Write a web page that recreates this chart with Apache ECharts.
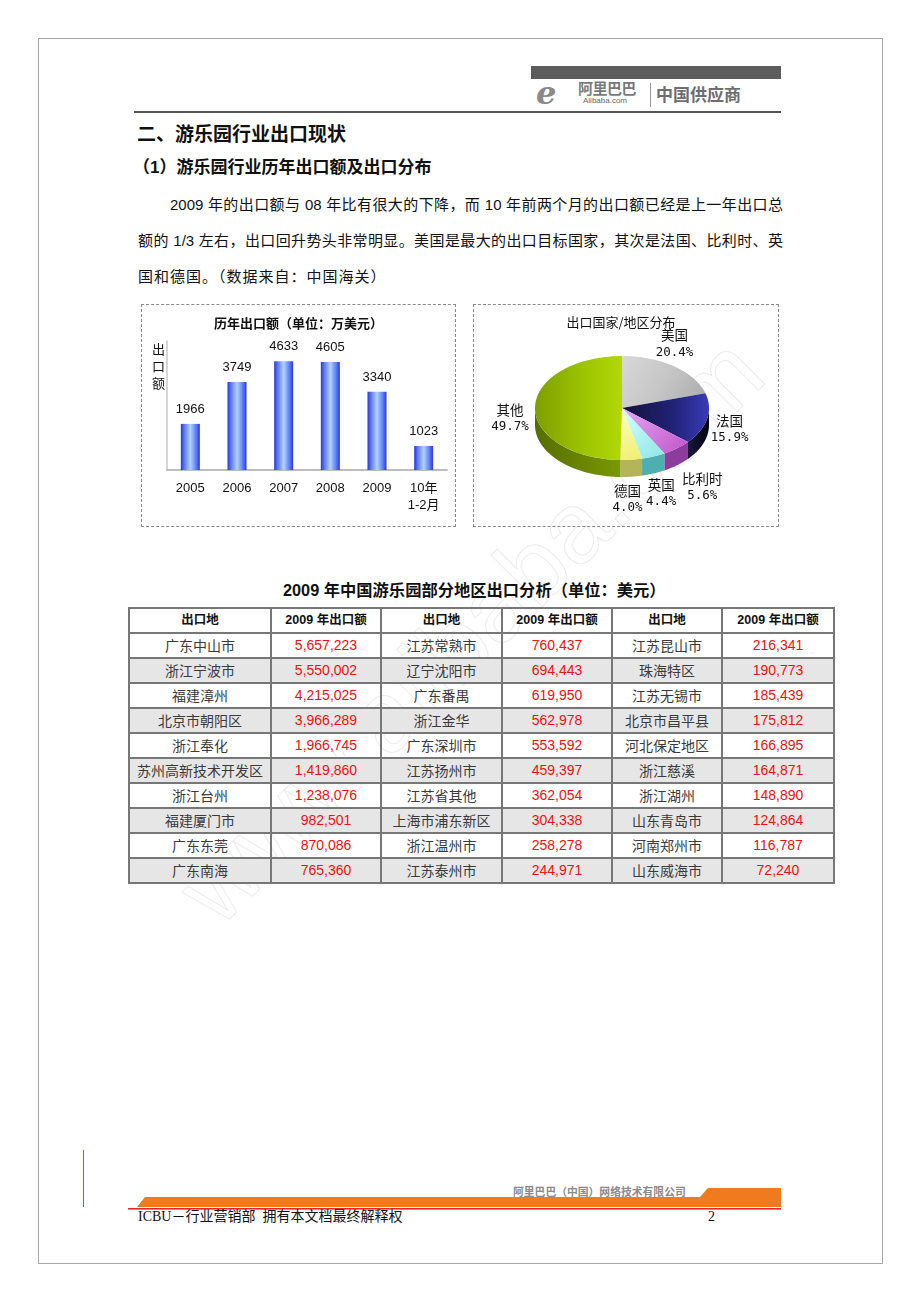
<!DOCTYPE html>
<html><head><meta charset="utf-8">
<script src="https://cdn.jsdelivr.net/npm/echarts@6/dist/echarts.min.js"></script>
<style>
body{margin:0;width:920px;height:1302px;position:relative;background:#fff;overflow:hidden;font-family:"Liberation Sans","Noto Sans CJK SC",sans-serif;color:#111}
.abs{position:absolute;white-space:nowrap}
.jl{text-align:justify;text-align-last:justify;white-space:normal}
table.t{position:absolute;left:128px;top:607px;border-collapse:collapse;table-layout:fixed;width:705px}
table.t td{border:2px solid #777;height:23px;padding:0;text-align:center;font-size:14px;line-height:21px;overflow:hidden;white-space:nowrap}
table.t td.h{font-weight:bold;font-size:12.5px;color:#111}
table.t td.n{color:#3a3a3a;font-family:"Noto Sans CJK SC",sans-serif}
table.t td.v{color:#f01010;font-family:"Liberation Sans",sans-serif}
table.t tr.g td{background:#e6e6e6}
</style></head>
<body>
<script>
// ---------- DATA ----------
const years = ['2005','2006','2007','2008','2009','10年\n1-2月'];
const exportValues = [1966, 3749, 4633, 4605, 3340, 1023];

const countries = ['美国','法国','比利时','英国','德国','其他'];
const shares = [20.4, 15.9, 5.6, 4.4, 4.0, 49.7];

const tableHeaders = ['出口地','2009 年出口额'];
const cities1 = ['广东中山市','浙江宁波市','福建漳州','北京市朝阳区','浙江奉化','苏州高新技术开发区','浙江台州','福建厦门市','广东东莞','广东南海'];
const values1 = [5657223,5550002,4215025,3966289,1966745,1419860,1238076,982501,870086,765360];
const cities2 = ['江苏常熟市','辽宁沈阳市','广东番禺','浙江金华','广东深圳市','江苏扬州市','江苏省其他','上海市浦东新区','浙江温州市','江苏泰州市'];
const values2 = [760437,694443,619950,562978,553592,459397,362054,304338,258278,244971];
const cities3 = ['江苏昆山市','珠海特区','江苏无锡市','北京市昌平县','河北保定地区','浙江慈溪','浙江湖州','山东青岛市','河南郑州市','山东威海市'];
const values3 = [216341,190773,185439,175812,166895,164871,148890,124864,116787,72240];
</script>

<!-- page frame -->
<div class="abs" style="left:38px;top:38px;width:843px;height:1224px;border:1px solid #a8a8a8"></div>

<!-- watermark -->
<div class="abs" style="left:470px;top:630px;transform:translate(-50%,-50%) rotate(-45deg);font:100px 'Liberation Sans',sans-serif;color:transparent;-webkit-text-stroke:1px #ececec;">www.alibaba.com</div>

<!-- header -->
<div class="abs" style="left:531px;top:66px;width:250px;height:13px;background:#5c5c5c"></div>
<div class="abs" style="left:536px;top:74px;font:italic bold 32px 'DejaVu Serif',serif;color:#8a8a8a">e</div>
<div class="abs" style="left:578px;top:80px;font:bold 15px 'Noto Sans CJK SC';color:#7a7a7a;letter-spacing:-0.5px;line-height:16px">阿里巴巴</div>
<div class="abs" style="left:583px;top:96px;font:8px 'Liberation Sans';color:#666;line-height:9px">Alibaba.com</div>
<div class="abs" style="left:650px;top:83px;width:1px;height:24px;background:#999"></div>
<div class="abs" style="left:656px;top:84px;font:bold 17px 'Noto Sans CJK SC';color:#6e6e6e;line-height:20px">中国供应商</div>
<div class="abs" style="left:134px;top:111px;width:647px;height:2px;background:#555"></div>

<!-- headings and paragraph -->
<div class="abs" style="left:137px;top:121px;font:bold 19px 'Noto Sans CJK SC';line-height:24px">二、游乐园行业出口现状</div>
<div class="abs" style="left:133px;top:156px;font:bold 17px 'Liberation Sans','Noto Sans CJK SC';line-height:24px">（1）游乐园行业历年出口额及出口分布</div>
<div class="abs jl" style="left:170px;top:194px;width:613px;font-size:15px;line-height:22px">2009 年的出口额与 08 年比有很大的下降，而 10 年前两个月的出口额已经是上一年出口总</div>
<div class="abs jl" style="left:138px;top:230px;width:645px;font-size:15px;line-height:22px">额的 1/3 左右，出口回升势头非常明显。美国是最大的出口目标国家，其次是法国、比利时、英</div>
<div class="abs" style="left:138px;top:266px;font-size:15px;line-height:22px;letter-spacing:1px">国和德国。（数据来自：中国海关）</div>

<!-- chart boxes -->
<div class="abs" style="left:141px;top:304px;width:313px;height:221px;border:1px dashed #8a8a8a"></div>
<div id="bar" class="abs" style="left:141px;top:304px;width:315px;height:223px"></div>
<div class="abs" style="left:473px;top:304px;width:304px;height:221px;border:1px dashed #8a8a8a"></div>
<div id="pie" class="abs" style="left:473px;top:304px;width:306px;height:223px"></div>

<!-- table title -->
<div class="abs" style="left:283px;top:579px;font:bold 16.3px 'Liberation Sans','Noto Sans CJK SC';line-height:22px">2009 年中国游乐园部分地区出口分析（单位：美元）</div>
<table class="t" id="tbl">
<colgroup><col style="width:142px"><col style="width:110px"><col style="width:121px"><col style="width:110px"><col style="width:110px"><col style="width:112px"></colgroup>
</table>

<!-- footer -->
<div class="abs" style="left:83px;top:1150px;width:1px;height:57px;background:#e04040"></div>
<svg class="abs" style="left:128px;top:1185px" width="660" height="28">
  <polygon points="9,22 17,12 572,12 580,3 653,3 653,22" fill="#f07a1e"/>
  <rect x="0" y="23" width="653" height="1.6" fill="#e02828"/>
</svg>
<div class="abs" style="left:513px;top:1185px;font:bold 10.8px 'Noto Sans CJK SC';color:#8a8a8a;line-height:12px">阿里巴巴（中国）网络技术有限公司</div>
<div class="abs" style="left:138px;top:1209px;font:14px 'Liberation Serif','Noto Sans CJK SC';line-height:16px">ICBU－行业营销部&nbsp;&nbsp;拥有本文档最终解释权</div>
<div class="abs" style="left:708px;top:1209px;font:14px 'Liberation Serif';line-height:16px">2</div>

<script>
// ---------- TABLE ----------
(function(){
  const tbl = document.getElementById('tbl');
  const fmt = v => v.toLocaleString('en-US');
  let html = '<tr>';
  for (let k = 0; k < 3; k++) html += '<td class="h">' + tableHeaders[0] + '</td><td class="h">' + tableHeaders[1] + '</td>';
  html += '</tr>';
  for (let r = 0; r < cities1.length; r++) {
    html += '<tr class="' + (r % 2 ? 'g' : '') + '">';
    html += '<td class="n">' + cities1[r] + '</td><td class="v">' + fmt(values1[r]) + '</td>';
    html += '<td class="n">' + cities2[r] + '</td><td class="v">' + fmt(values2[r]) + '</td>';
    html += '<td class="n">' + cities3[r] + '</td><td class="v">' + fmt(values3[r]) + '</td>';
    html += '</tr>';
  }
  tbl.insertAdjacentHTML('beforeend', html);
})();

// ---------- BAR CHART ----------
const bar = echarts.init(document.getElementById('bar'), null, {renderer:'canvas'});
const barGrad = new echarts.graphic.LinearGradient(0,0,1,0,[
  {offset:0,color:'#2a36d8'},{offset:0.18,color:'#5a78f4'},{offset:0.5,color:'#b4d2ff'},
  {offset:0.82,color:'#5a78f4'},{offset:1,color:'#2a36d8'}]);
bar.setOption({
  animation:false,
  title:{text:'历年出口额（单位：万美元）', left:'center', top:8,
    textStyle:{fontSize:13, fontWeight:'bold', color:'#111', fontFamily:'Noto Sans CJK SC'}},
  grid:{left:26, right:9, top:37, bottom:57},
  xAxis:{type:'category', data:years,
    axisLine:{lineStyle:{color:'#bdbdbd', width:2}}, axisTick:{show:false},
    axisLabel:{color:'#111', fontSize:13, margin:10, lineHeight:17, fontFamily:'Liberation Sans, Noto Sans CJK SC'}},
  yAxis:{type:'value', min:0, max:5500, interval:5500,
    axisLine:{show:true, lineStyle:{color:'#c8c8c8', width:1.5}},
    axisLabel:{show:false}, axisTick:{show:false}, splitLine:{show:false}},
  series:[{type:'bar', data:exportValues, barWidth:19, itemStyle:{color:barGrad},
    label:{show:true, position:'top', distance:8, color:'#111', fontSize:13, fontFamily:'Liberation Sans'}}],
  graphic:[{type:'text', left:11, top:37,
    style:{text:'出\n口\n额', font:'13px "Noto Sans CJK SC"', lineHeight:17, fill:'#111'}}]
});

// ---------- 3D-LOOK PIE ----------
const topFill = [
  new echarts.graphic.LinearGradient(0,0,1,1,[{offset:0,color:'#d8d8d8'},{offset:0.5,color:'#c6c6c6'},{offset:1,color:'#a8a8a8'}]),
  new echarts.graphic.LinearGradient(0,0,1,0,[{offset:0,color:'#12123a'},{offset:0.6,color:'#222278'},{offset:1,color:'#3a3ab8'}]),
  new echarts.graphic.LinearGradient(0,0,1,1,[{offset:0,color:'#e4a8f4'},{offset:1,color:'#c055c8'}]),
  new echarts.graphic.LinearGradient(0,0,1,1,[{offset:0,color:'#d8ffff'},{offset:1,color:'#8ee6e6'}]),
  new echarts.graphic.LinearGradient(0,0,1,1,[{offset:0,color:'#ffffc0'},{offset:1,color:'#eeee70'}]),
  new echarts.graphic.LinearGradient(0,0,1,0,[{offset:0,color:'#7f9e00'},{offset:0.55,color:'#9cc400'},{offset:1,color:'#b2d808'}])
];
const sideFill = [
  '#8a8a8a',
  new echarts.graphic.LinearGradient(0,0,1,0,[{offset:0,color:'#181840'},{offset:1,color:'#02020e'}]),
  '#8c3c9c', '#4eaeb0', '#b4b45a',
  new echarts.graphic.LinearGradient(0,0,1,0,[{offset:0,color:'#566e00'},{offset:1,color:'#7a9800'}])
];
// label layout nudges (pixels) relative to the angle-based position
const labelNudge = [[-12,0],[2,-7],[12,5],[0,-1],[-6,0],[-4,11]];
function pieItem(params, api){
  const i = params.dataIndex;
  const cx = 149, cy = 104, rx = 87, ry = 52, depth = 17;
  const total = shares.reduce((a,b)=>a+b,0);
  let start = 0; for (let k=0;k<i;k++) start += shares[k];
  const v = api.value(0);
  const a0 = start/total*Math.PI*2, a1 = (start+v)/total*Math.PI*2;
  const pt = (t,dy) => [cx + rx*Math.sin(t), cy - ry*Math.cos(t) + (dy||0)];
  const children = [];
  const s = Math.max(a0, Math.PI/2), e = Math.min(a1, Math.PI*1.5);
  if (e > s) {
    const pts = [], n = 40;
    for (let k=0;k<=n;k++) pts.push(pt(s+(e-s)*k/n));
    for (let k=n;k>=0;k--) pts.push(pt(s+(e-s)*k/n, depth));
    children.push({type:'polygon', z2:1, shape:{points:pts}, style:{fill:sideFill[i]}});
  }
  const top = [[cx,cy]], n = 80;
  for (let k=0;k<=n;k++) top.push(pt(a0+(a1-a0)*k/n));
  children.push({type:'polygon', z2:10, shape:{points:top}, style:{fill:topFill[i]}});
  const mid = (a0+a1)/2;
  const lx = cx + 108*Math.sin(mid) + labelNudge[i][0];
  const ly = cy - 80*Math.cos(mid) + (Math.cos(mid) < 0 ? 12 : 0) + labelNudge[i][1];
  children.push({type:'text', z2:20, x:lx, y:ly, style:{
    text:'{n|' + countries[i] + '}\n{p|' + v.toFixed(1) + '%}',
    align:'center', verticalAlign:'middle',
    rich:{n:{font:'13.5px "Noto Sans CJK SC"', fill:'#111', lineHeight:17, align:'center'},
          p:{font:'12.5px "DejaVu Sans Mono"', fill:'#111', lineHeight:17, align:'center'}}
  }});
  return {type:'group', children};
}
const pie = echarts.init(document.getElementById('pie'), null, {renderer:'canvas'});
pie.setOption({
  animation:false,
  graphic:[{type:'text', x:148, y:18, style:{text:'出口国家/地区分布', font:'13px "Noto Sans CJK SC"', fill:'#111', align:'center', verticalAlign:'middle'}}],
  series:[{type:'custom', coordinateSystem:'none', renderItem:pieItem, data:shares.map(v=>[v])}]
});
</script>
</body></html>
